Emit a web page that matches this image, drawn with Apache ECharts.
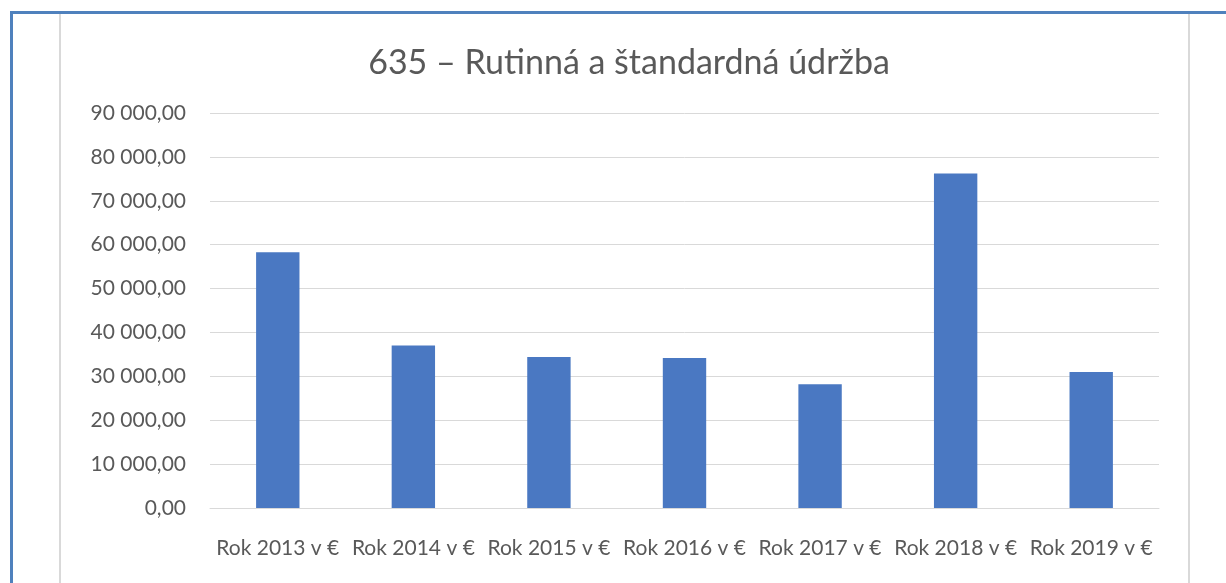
<!DOCTYPE html>
<html>
<head>
<meta charset="utf-8">
<script src="https://cdn.jsdelivr.net/npm/echarts@6/dist/echarts.min.js"></script>
<style>
  html, body { margin: 0; padding: 0; background: #fff; }
  #container { width: 1226px; height: 583px; }
</style>
</head>
<body>
<div id="container"></div>
<script>
const categories = ['Rok 2013 v €', 'Rok 2014 v €', 'Rok 2015 v €', 'Rok 2016 v €', 'Rok 2017 v €', 'Rok 2018 v €', 'Rok 2019 v €']
const values = [58300, 37000, 34400, 34200, 28200, 76200, 31000]

const fmt = (v) => {
    let s = Math.round(v).toString().replace(/\B(?=(\d{3})+(?!\d))/g, ' ')
    return s + ',00'
}

let chart = echarts.init(document.getElementById('container'))

chart.setOption({
    animation: false,
    backgroundColor: '#fff',
    textStyle: { fontFamily: 'Lato' },
    title: {
        text: '635 – Rutinná a štandardná údržba',
        left: 624,
        textAlign: 'center',
        top: 41,
        textStyle: { fontSize: 34, fontWeight: 'normal', color: '#595959', fontFamily: 'Lato' }
    },
    graphic: [
        { type: 'line', shape: { x1: 10, y1: 12.5, x2: 1226, y2: 12.5 }, style: { stroke: '#4f81bd', lineWidth: 3 } },
        { type: 'line', shape: { x1: 11.5, y1: 11, x2: 11.5, y2: 583 }, style: { stroke: '#4f81bd', lineWidth: 3 } },
        { type: 'line', shape: { x1: 60, y1: 14, x2: 60, y2: 583 }, style: { stroke: '#d9d9d9', lineWidth: 2 } },
        { type: 'line', shape: { x1: 1189, y1: 14, x2: 1189, y2: 583 }, style: { stroke: '#d9d9d9', lineWidth: 2 } }
    ],
    grid: { left: 210, right: 67, top: 113, bottom: 75 },
    xAxis: {
        type: 'category',
        data: categories,
        axisLine: { lineStyle: { color: '#d9d9d9' } },
        axisTick: { show: false },
        axisLabel: { color: '#595959', fontSize: 21, margin: 30, interval: 0 }
    },
    yAxis: {
        type: 'value',
        min: 0,
        max: 90000,
        interval: 10000,
        axisLine: { show: false },
        axisTick: { show: false },
        splitLine: { lineStyle: { color: '#d9d9d9' } },
        axisLabel: { color: '#595959', fontSize: 21, margin: 24, formatter: fmt }
    },
    series: [{
        type: 'bar',
        data: values,
        barWidth: '32%',
        itemStyle: { color: '#4a78c2' }
    }]
})
</script>
</body>
</html>
